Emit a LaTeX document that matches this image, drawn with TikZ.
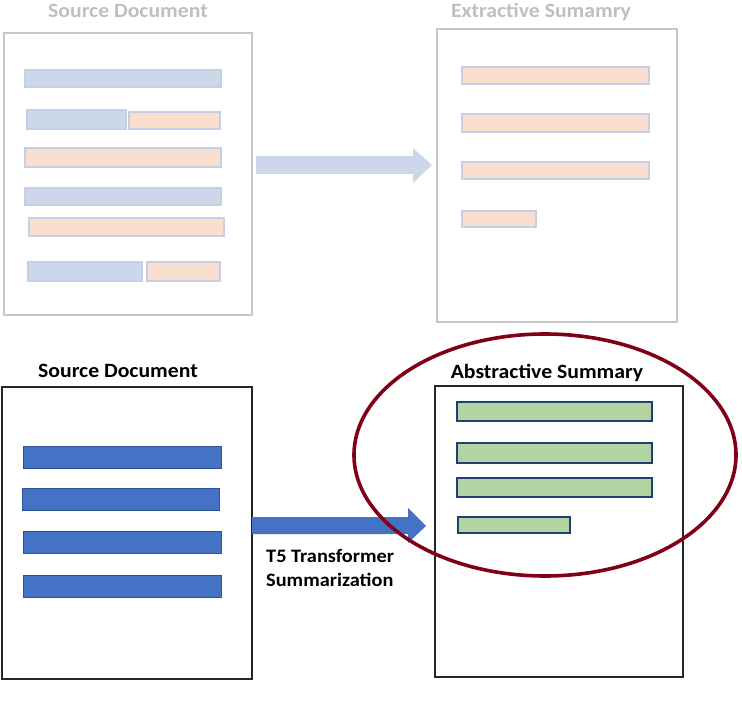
\documentclass[tikz,border=0pt]{standalone}
\usepackage{fontspec}
\setmainfont{Carlito}[FakeStretch=1.07]
\usetikzlibrary{positioning}
\definecolor{lbox}{HTML}{C8C8C8}
\definecolor{ltitle}{HTML}{BFBFBF}
\definecolor{lblue}{HTML}{CCD8EA}
\definecolor{lblueb}{HTML}{C3D1E7}
\definecolor{lorange}{HTML}{FADFCF}
\definecolor{dblue}{HTML}{4472C4}
\definecolor{dblueb}{HTML}{2F528F}
\definecolor{lgreen}{HTML}{B2D4A3}
\definecolor{gbord}{HTML}{203F73}
\definecolor{ered}{HTML}{800018}
\tikzset{
  pg/.style={x=1pt,y=-1pt},
  bar/.style={inner sep=0pt,outer sep=0pt,anchor=north west},
  lbar/.style={bar,fill=lblue,draw=lblueb,line width=1.2pt},
  obar/.style={bar,fill=lorange,draw=lblueb,line width=1.5pt},
  bbar/.style={bar,fill=dblue,draw=dblueb,line width=1pt},
  gbar/.style={bar,fill=lgreen,draw=gbord,line width=2.4pt},
  lpage/.style={bar,draw=lbox,line width=1.4pt},
  dpage/.style={bar,draw=black!85,line width=1.4pt},
  title/.style={font=\bfseries\fontsize{20.3}{24}\selectfont,inner sep=0pt,anchor=base},
  lbltext/.style={font=\bfseries\fontsize{19}{23}\selectfont,inner sep=0pt,anchor=base west}
}
\newcommand{\mybar}[6]{\node[#1,minimum width=#4-#2,minimum height=#5-#3] (#6) at (#2,#3) {};}
\begin{document}
\begin{tikzpicture}[pg]
\useasboundingbox (0,0) rectangle (742,714);
% top left
\mybar{lpage}{4}{33}{252}{315}{srcA}
\node[title,text=ltitle] (tsrcA) at (128,18) {Source Document};
\mybar{lbar}{25}{70}{221}{87}{a1}
\mybar{lbar}{27}{110}{126}{129}{a2}
\mybar{obar}{129}{112}{220}{129}{a3}
\mybar{obar}{25}{148}{221}{167}{a4}
\mybar{lbar}{25}{188}{221}{205}{a5}
\mybar{obar}{29}{218}{224}{236}{a6}
\mybar{lbar}{28}{262}{142}{281}{a7}
\mybar{obar}{147}{262}{220}{281}{a8}
% top right
\mybar{lpage}{437}{29}{677}{322}{extA}
\node[title,text=ltitle] (textA) at (541,18) {Extractive Sumamry};
\mybar{obar}{462}{67}{649}{84}{e1}
\mybar{obar}{462}{114}{649}{132}{e2}
\mybar{obar}{462}{162}{649}{179}{e3}
\mybar{obar}{462}{211}{536}{227}{e4}
% top arrow
\coordinate (ta0) at (256,156);
\coordinate (ta1) at (413,156);
\coordinate (ta2) at (413,148);
\coordinate (tatip) at (432,165);
\coordinate (ta3) at (413,183);
\coordinate (ta4) at (413,174);
\coordinate (ta5) at (256,174);
\fill[lblue] (ta0) -- (ta1) -- (ta2) -- (tatip) -- (ta3) -- (ta4) -- (ta5) -- cycle;
% bottom left
\mybar{dpage}{2}{387}{252}{679}{srcB}
\node[title,text=black] (tsrcB) at (118,377) {Source Document};
\mybar{bbar}{23}{446}{221}{468}{b1}
\mybar{bbar}{22}{488}{219}{510}{b2}
\mybar{bbar}{23}{531}{221}{553}{b3}
\mybar{bbar}{23}{575}{221}{597}{b4}
% bottom right
\mybar{dpage}{435}{386}{683}{677}{absB}
\node[title,text=black] (tabsB) at (547,378) {Abstractive Summary};
\mybar{gbar}{457}{402}{652}{421}{g1}
\mybar{gbar}{457}{443}{652}{463}{g2}
\mybar{gbar}{457}{478}{652}{497}{g3}
\mybar{gbar}{458}{517}{570}{533}{g4}
% bottom arrow
\coordinate (ba0) at (252,517);
\coordinate (ba1) at (408,517);
\coordinate (ba2) at (408,508);
\coordinate (batip) at (426,526);
\coordinate (ba3) at (408,543);
\coordinate (ba4) at (408,534);
\coordinate (ba5) at (252,534);
\fill[dblue] (ba0) -- (ba1) -- (ba2) -- (batip) -- (ba3) -- (ba4) -- (ba5) -- cycle;
\node[lbltext] (lbl) at (266,562) {T5 Transformer};
\node[lbltext] (lbl2) at (266,586) {Summarization};
% ellipse
\draw[ered,line width=3.6pt] (545,455) ellipse [x radius=191,y radius=121];
\end{tikzpicture}
\end{document}
